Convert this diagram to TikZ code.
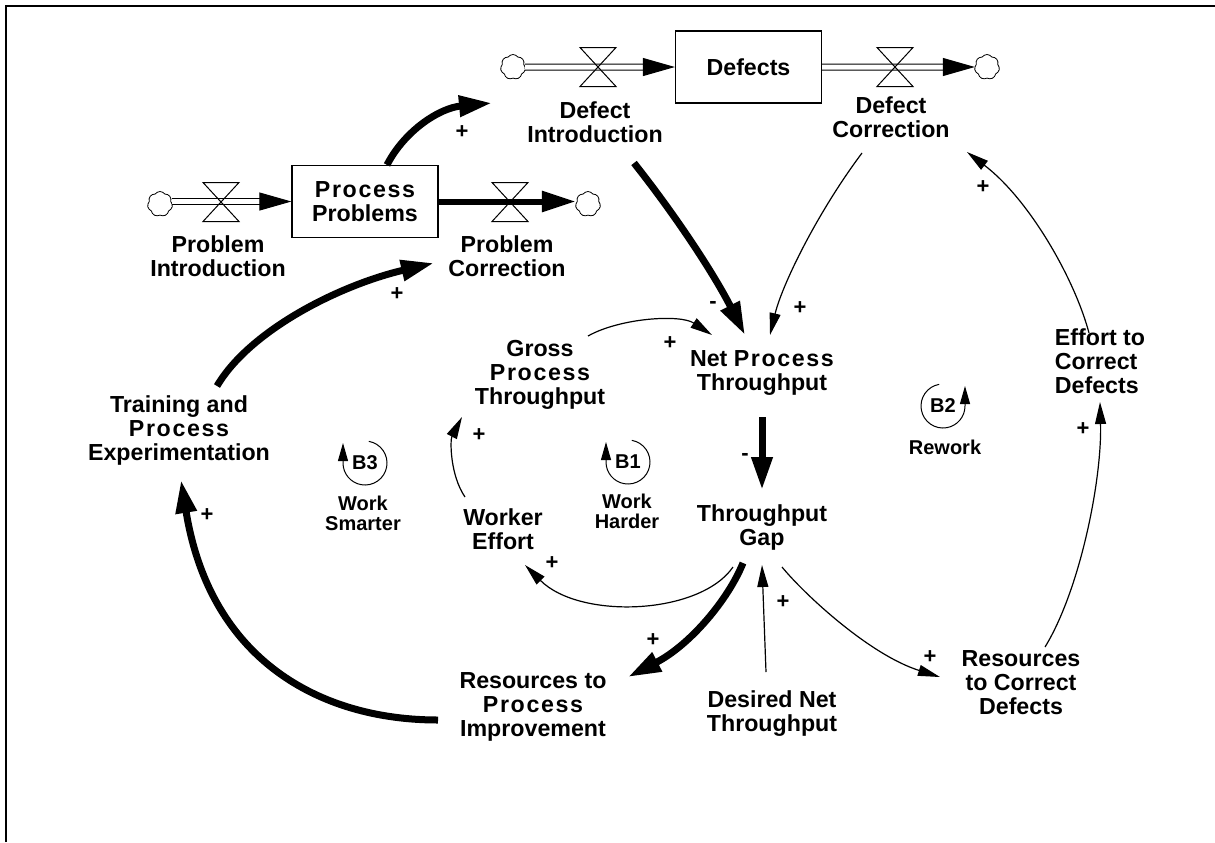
\documentclass[tikz,border=0pt]{standalone}
\usepackage{fontspec}
\setmainfont{Liberation Sans}
\usetikzlibrary{arrows.meta,calc,shapes.symbols}
\newcommand\spc[1]{{\addfontfeature{LetterSpace=7}#1}}
\begin{document}
\begin{tikzpicture}[x=0.5pt,y=-0.5pt,
  var/.style={font=\bfseries\fontsize{11.6}{12}\selectfont, align=center, inner sep=0pt},
  loopname/.style={font=\bfseries\fontsize{10}{10}\selectfont, align=center, inner sep=0pt},
  stock/.style={draw, line width=0.6pt, minimum width=73pt, minimum height=36pt, inner sep=0pt,
    font=\bfseries\fontsize{11.6}{12}\selectfont, align=center},
  thinlink/.style={line width=0.6pt, -{Triangle[length=11pt,width=5.5pt]}},
  thicklink/.style={line width=3.5pt, -{Triangle[length=16.5pt,width=10pt]}},
  pipe/.style={double, double distance=2.5pt, line width=0.5pt, -{Triangle[length=16pt,width=9pt]}},
  boldflow/.style={line width=3pt, -{Triangle[length=17pt,width=10pt]}},
  sgn/.style={font=\bfseries\fontsize{11}{11}\selectfont, inner sep=0pt},
  sink/.style={cloud, cloud puffs=7, cloud puff arc=110, draw, line width=0.4pt, minimum width=12.5pt,
    minimum height=12.5pt, inner sep=0pt, outer sep=0pt, aspect=1},
  looparc/.style={line width=0.5pt, -{Triangle[length=9pt,width=5pt]}},
  valve/.pic={\draw[line width=0.5pt] (-18,-19.5) -- (18,-19.5) -- (-18,19.5) -- (18,19.5) -- cycle;}
]
\useasboundingbox (0,0) rectangle (1215,842);
% frame
\draw[line width=1pt] (6,842) -- (6,6) -- (1215,6);

% stocks
\node[stock] (pp) at (365,201.5) {\spc{Process}\\Problems};
\node[stock] (defects) at (748.5,67) {Defects};

% sources and sinks
\node[sink] (c1) at (160,204) {};
\node[sink] (c2) at (588,204) {};
\node[sink] (c3) at (513,67) {};
\node[sink] (c4) at (987,67) {};

% flows
\draw[pipe] (c1.east |- pp.west) -- (pp.west);
\draw[boldflow] (pp.east) -- (c2.west |- pp.east);
\draw[pipe] (c3.east) -- (defects.west);
\draw[pipe] (defects.east) -- (c4.west);
\pic at (221,202) {valve};
\pic at (510,202) {valve};
\pic at (598,67) {valve};
\pic at (895,67) {valve};

% variables
\node[var] (pi) at (218,256) {Problem\\Introduction};
\node[var] (pc) at (507,256) {Problem\\Correction};
\node[var] (di) at (595,122) {Defect\\Introduction};
\node[var] (dc) at (891,117) {Defect\\Correction};
\node[var] (npt) at (762,373) {Net \spc{Process}\\Throughput};
\node[var] (tg) at (762,527) {Throughput\\Gap};
\node[var] (gpt) at (540,375) {Gross\\\spc{Process}\\Throughput};
\node[var] (we) at (503,529) {Worker\\Effort};
\node[var] (rpi) at (533,707) {Resources to\\\spc{Process}\\Improvement};
\node[var] (dnt) at (772,714) {Desired Net\\Throughput};
\node[var] (rcd) at (1021,683) {Resources\\to Correct\\Defects};
\node[var, align=left] (ecd) at (1100,361) {Effort to\\Correct\\Defects};
\node[var] (tpe) at (179,430) {Training and\\\spc{Process}\\Experimentation};

% causal links
\draw[thicklink] ($(pp.north)+(22,0)$) .. controls (405,130) and (440,108) .. ($(di)+(-103,-19)$);
\draw[thicklink] ($(di)+(39,41)$) .. controls (676,216) and (714,274) .. ($(npt)+(-17,-38)$);
\draw[thinlink] ($(dc)+(-29,36)$) .. controls (817,213) and (782,285) .. ($(npt)+(8,-38)$);
\draw[thinlink] ($(gpt)+(48,-39)$) .. controls (620,318) and (680,314) .. ($(npt)+(-50,-38)$);
\draw[thicklink] ($(npt)+(0,44)$) -- ($(tg)+(0,-37)$);
\draw[thinlink] ($(we)+(-38,-32)$) .. controls (450,475) and (450,440) .. ($(gpt)+(-78,42)$);
\draw[thinlink] ($(tg)+(-29,40)$) .. controls (700,615) and (580,620) .. ($(we)+(22,36)$);
\draw[thicklink] ($(tg)+(-19,36)$) .. controls (728,600) and (690,645) .. ($(rpi)+(95,-30)$);
\draw[thinlink] ($(dnt)+(-6,-42)$) -- ($(tg)+(0,38)$);
\draw[thinlink] ($(tg)+(20,40)$) .. controls (805,595) and (870,655) .. ($(rcd)+(-81,-6)$);
\draw[thinlink] ($(rcd)+(24,-36)$) .. controls (1080,590) and (1102,480) .. ($(ecd)+(0,41)$);
\draw[thinlink] ($(ecd)+(-11,-28)$) .. controls (1075,280) and (1030,200) .. ($(dc)+(76,35)$);
\draw[thicklink] ($(tpe)+(38,-44)$) .. controls (250,330) and (340,285) .. ($(pc)+(-73,7)$);
\draw[thicklink] ($(rpi)+(-95,13)$) .. controls (320,720) and (210,660) .. ($(tpe)+(2,50)$);

% polarities
\node[sgn] at (462,132) {+};
\node[sgn] at (713,305) {-};
\node[sgn] at (800,308) {+};
\node[sgn] at (670,343) {+};
\node[sgn] at (745,457) {-};
\node[sgn] at (479,435) {+};
\node[sgn] at (552,563) {+};
\node[sgn] at (653,640) {+};
\node[sgn] at (783,602) {+};
\node[sgn] at (930,657) {+};
\node[sgn] at (1083,429) {+};
\node[sgn] at (983,187) {+};
\node[sgn] at (397,294) {+};
\node[sgn] at (207,515) {+};

% loop markers
\node[loopname] (b3) at (365,463) {B3};
\draw[looparc] (b3.center) ++(-80:22) arc[start angle=-80, end angle=180, radius=22] -- ++(0,-20);
\node[loopname] (b3n) at (363,513) {Work\\Smarter};
\node[loopname] (b1) at (628,462) {B1};
\draw[looparc] (b1.center) ++(-80:22) arc[start angle=-80, end angle=180, radius=22] -- ++(0,-20);
\node[loopname] (b1n) at (627,511) {Work\\Harder};
\node[loopname] (b2) at (943,406) {B2};
\draw[looparc] (b2.center) ++(-100:22) arc[start angle=-100, end angle=-360, radius=22] -- ++(0,-20);
\node[loopname] (b2n) at (945,447) {Rework};
\end{tikzpicture}
\end{document}
